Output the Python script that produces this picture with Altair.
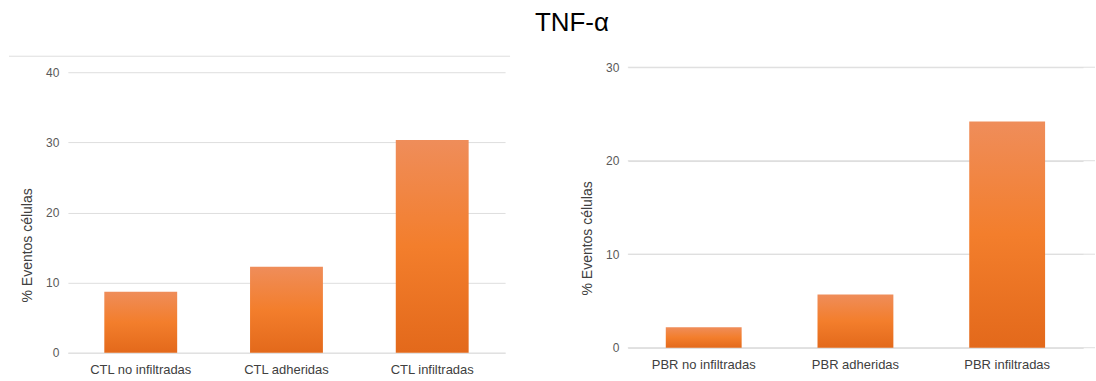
import altair as alt
import pandas as pd

# ---- data ----
ctl_cats = ["CTL no infiltradas", "CTL adheridas", "CTL infiltradas"]
ctl_vals = [8.7, 12.25, 30.35]
pbr_cats = ["PBR no infiltradas", "PBR adheridas", "PBR infiltradas"]
pbr_vals = [2.2, 5.7, 24.2]
ctl_ticks = [0, 10, 20, 30, 40]
pbr_ticks = [0, 10, 20, 30]
title_text = "TNF-α"
y_title = "% Eventos células"

FONT = "Liberation Sans"
GRID = "#dedede"

grad = alt.Gradient(
    gradient="linear",
    stops=[
        alt.GradientStop(color="#EF8D5A", offset=0),
        alt.GradientStop(color="#F37E2C", offset=0.5),
        alt.GradientStop(color="#E3691B", offset=1),
    ],
    x1=0, x2=0, y1=0, y2=1,
)


def panel(cats, vals, ticks, dmax, width, height, rng, title_y):
    df = pd.DataFrame({"cat": cats, "val": vals})
    return alt.Chart(df).mark_bar(color=grad).encode(
        x=alt.X(
            "cat:N", sort=cats,
            scale=alt.Scale(paddingInner=0.5, paddingOuter=0.25),
            axis=alt.Axis(
                title=None, labelAngle=0, labelFont=FONT, labelFontSize=13,
                labelColor="#404040", domain=True, domainColor=GRID,
                ticks=False, tickSize=0, labelPadding=11, grid=False,
            ),
        ),
        y=alt.Y(
            "val:Q",
            scale=alt.Scale(domain=[0, dmax], range=rng, nice=False),
            axis=alt.Axis(
                values=ticks, title=y_title, titleFont=FONT, titleFontSize=14,
                titleFontWeight="normal", titleColor="#404040",
                titleX=-40, titleY=title_y, titleBaseline="middle", titleAlign="center",
                labelFont=FONT, labelFontSize=12, labelColor="#595959",
                gridColor=GRID, domain=False, ticks=False, tickSize=0, labelPadding=9,
            ),
        ),
    ).properties(width=width, height=height)


left_bars = panel(ctl_cats, ctl_vals, ctl_ticks, 40, 438, 286, [286, 5], 178)
stray = alt.Chart(pd.DataFrame({"a": [0]})).mark_rule(color=GRID, strokeWidth=1).encode(
    x=alt.value(-59), x2=alt.value(443), y=alt.value(-11)
)
left = alt.layer(left_bars, stray)

right_bars = panel(pbr_cats, pbr_vals, pbr_ticks, 30, 456, 281, [281, 0], 171)
right_grid = alt.Chart(pd.DataFrame({"t": pbr_ticks})).mark_rule(color=GRID, strokeWidth=1).encode(
    y=alt.Y("t:Q"), x=alt.value(0), x2=alt.value(468)
)
right = alt.layer(right_grid, right_bars)

chart = alt.hconcat(left, right, spacing=70).properties(
    title=alt.TitleParams(
        title_text, font=FONT, fontSize=26, fontWeight="normal", color="#000000",
        anchor="middle", dx=20, offset=20,
    ),
    padding={"left": 8, "top": 9, "right": 0, "bottom": 0},
).configure_view(stroke=None)

chart.save("out.html", embed_options={"renderer": "svg", "actions": False})
